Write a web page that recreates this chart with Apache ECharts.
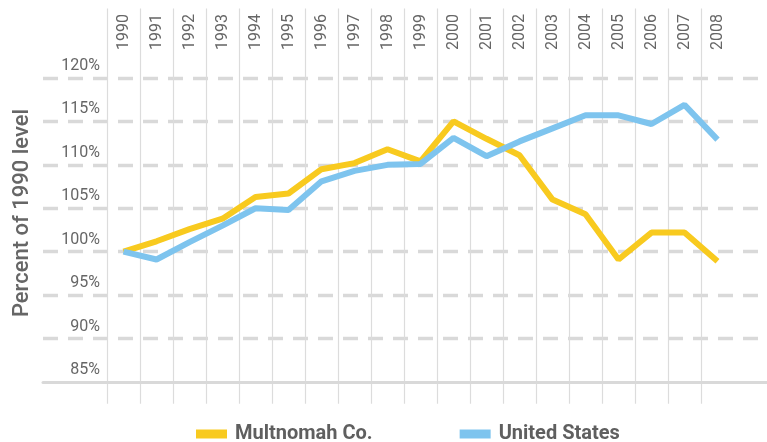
<!DOCTYPE html>
<html>
<head>
<meta charset="utf-8">
<script src="https://cdn.jsdelivr.net/npm/echarts@6/dist/echarts.min.js"></script>
<style>
  html, body { margin: 0; padding: 0; background: #fff; }
  #chart { width: 767px; height: 442px; }
</style>
</head>
<body>
<div id="chart"></div>
<script>
  // data
  var years = ['1990', '1991', '1992', '1993', '1994', '1995', '1996', '1997', '1998', '1999',
               '2000', '2001', '2002', '2003', '2004', '2005', '2006', '2007', '2008'];
  var multnomah = [100, 101.2, 102.6, 103.8, 106.3, 106.7, 109.5, 110.2, 111.8, 110.4,
                   115.0, 113.0, 111.1, 106.0, 104.3, 99.1, 102.2, 102.2, 98.9];
  var unitedStates = [100, 99.1, 101.1, 103.0, 105.0, 104.8, 108.1, 109.3, 110.0, 110.1,
                      113.1, 111.0, 112.7, 114.2, 115.7, 115.7, 114.7, 116.9, 112.9];
  var yTicks = { min: 85, max: 120, step: 5 };

  var FONT = 'Roboto, "DejaVu Sans Condensed", sans-serif';
  var GRID_COLOR = '#d9d9d9';
  var TEXT_COLOR = '#666666';

  var chart = echarts.init(document.getElementById('chart'));
  chart.setOption({
    animation: false,
    textStyle: { fontFamily: FONT },
    grid: [
      // horizontal guides + base line
      { left: 43, right: 0, top: 78, bottom: 60 },
      // year columns + data
      { left: 107, width: 627, top: 8.5, bottom: 38.3 }
    ],
    legend: {
      top: 419,
      left: 191,
      itemWidth: 31,
      itemHeight: 9,
      itemGap: 87,
      icon: 'rect',
      textStyle: { fontFamily: FONT, fontSize: 20, fontWeight: 'bold', color: '#5f5f5f', padding: [0, 0, 0, 3] },
      data: ['Multnomah Co.', 'United States']
    },
    graphic: [{
      type: 'text',
      x: 22,
      y: 213,
      rotation: Math.PI / 2,
      style: {
        text: 'Percent of 1990 level',
        fontFamily: FONT,
        fontSize: 22,
        fontWeight: 500,
        fill: TEXT_COLOR,
        align: 'center',
        verticalAlign: 'middle'
      }
    }],
    xAxis: [
      {
        gridIndex: 0,
        type: 'value',
        min: 0,
        max: 1,
        axisLine: { show: true, lineStyle: { color: GRID_COLOR, width: 3 } },
        axisTick: { show: false },
        axisLabel: { show: false },
        splitLine: { show: false }
      },
      {
        gridIndex: 1,
        type: 'category',
        position: 'top',
        boundaryGap: true,
        data: years,
        axisLine: { show: false },
        axisTick: { show: false },
        axisLabel: {
          inside: true,
          rotate: -90,
          margin: 41.5,
          align: 'left',
          verticalAlign: 'middle',
          fontSize: 16,
          color: TEXT_COLOR
        },
        splitLine: { show: true, showMaxLine: false, lineStyle: { color: '#dcdcdc', width: 1.2 } }
      }
    ],
    yAxis: [
      {
        gridIndex: 0,
        type: 'value',
        min: yTicks.min,
        max: yTicks.max,
        interval: yTicks.step,
        axisLine: { show: false },
        axisTick: { show: false },
        axisLabel: {
          inside: true,
          margin: 57,
          align: 'right',
          verticalAlign: 'bottom',
          padding: [0, 0, 4, 0],
          fontSize: 16,
          color: TEXT_COLOR,
          formatter: '{value}%'
        },
        splitLine: {
          show: true,
          showMinLine: false,
          lineStyle: { color: GRID_COLOR, width: 3.3, type: [15, 10] }
        }
      },
      {
        gridIndex: 1,
        type: 'value',
        min: 82.5,
        max: 128,
        show: false
      }
    ],
    series: [
      {
        name: 'Multnomah Co.',
        type: 'line',
        xAxisIndex: 1,
        yAxisIndex: 1,
        data: multnomah,
        showSymbol: false,
        symbol: 'none',
        color: '#f8ca1f',
        lineStyle: { width: 6, color: '#f8ca1f' }
      },
      {
        name: 'United States',
        type: 'line',
        xAxisIndex: 1,
        yAxisIndex: 1,
        data: unitedStates,
        showSymbol: false,
        symbol: 'none',
        color: '#7ec4ee',
        lineStyle: { width: 6, color: '#7ec4ee' }
      }
    ]
  });
</script>
</body>
</html>
